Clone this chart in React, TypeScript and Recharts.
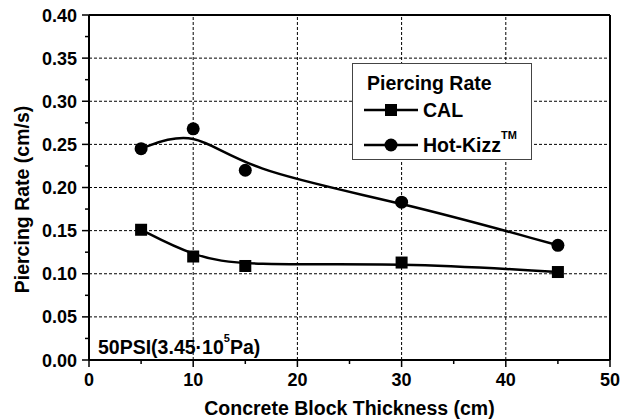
import React from 'react'
import { LineChart, Line, XAxis, YAxis } from 'recharts'

// block thickness (cm)
const thickness = [5, 10, 15, 30, 45]
// piercing rate (cm/s)
const calRate = [0.151, 0.12, 0.109, 0.113, 0.102]
const hotKizzRate = [0.245, 0.268, 0.22, 0.183, 0.133]

// every 5 cm, labels on the 10s
const xTicks = [0, 5, 10, 15, 20, 25, 30, 35, 40, 45, 50]
// every 0.025, labels on the 0.05s
const yTicks = [0, 0.025, 0.05, 0.075, 0.1, 0.125, 0.15, 0.175, 0.2, 0.225, 0.25, 0.275, 0.3, 0.325, 0.35, 0.375, 0.4]
const xGrid = [10, 20, 30, 40]
const yGrid = [0.05, 0.1, 0.15, 0.2, 0.25, 0.3, 0.35]
const X_MAX = 50
const Y_MAX = 0.4

const data = thickness.map((t, i) => ({ t, cal: calRate[i], hot: hotKizzRate[i] }))

// grid and frame as plain segments on the chart's own scales
const vLines = xGrid.map((v) => [{ t: v, g: 0 }, { t: v, g: Y_MAX }])
const hLines = yGrid.map((v) => [{ t: 0, g: v }, { t: X_MAX, g: v }])
const frame = [
  [{ t: 0, g: Y_MAX }, { t: X_MAX, g: Y_MAX }],
  [{ t: X_MAX, g: 0 }, { t: X_MAX, g: Y_MAX }],
]

const FONT = '"Liberation Sans", Arial, sans-serif'

const XTick = (props: any) => {
  const { x, y, payload } = props
  const v = payload.value
  const major = v % 10 === 0
  return (
    <g>
      <line x1={x} y1={y} x2={x} y2={y + (major ? 7 : 4)} stroke="#000" strokeWidth={1.5} />
      {major && (
        <text x={x} y={y + 26} textAnchor="middle" fontFamily={FONT} fontWeight="bold" fontSize={18} fill="#000">
          {v}
        </text>
      )}
    </g>
  )
}

const YTick = (props: any) => {
  const { x, y, payload } = props
  const v = payload.value
  const major = Math.round(v * 1000) % 50 === 0
  return (
    <g>
      <line x1={x} y1={y} x2={x - (major ? 7 : 4)} y2={y} stroke="#000" strokeWidth={1.5} />
      {major && (
        <text x={x - 12} y={y + 6.5} textAnchor="end" fontFamily={FONT} fontWeight="bold" fontSize={18} fill="#000">
          {Number(v).toFixed(2)}
        </text>
      )}
    </g>
  )
}

const SquareDot = (props: any) => {
  const { cx, cy, index } = props
  return <rect key={index} x={cx - 6} y={cy - 6} width={12} height={12} fill="#000" />
}

const CircleDot = (props: any) => {
  const { cx, cy, index } = props
  return <circle key={index} cx={cx} cy={cy} r={6.5} fill="#000" />
}

const YTitle = (props: any) => {
  const vb = props.viewBox || { x: 0, y: 15, width: 89, height: 345 }
  const cx = vb.x + 22
  const cy = vb.y + vb.height / 2 + 12
  return (
    <text x={cx} y={cy} transform={`rotate(-90 ${cx} ${cy})`} textAnchor="middle" dominantBaseline="central"
      fontFamily={FONT} fontWeight="bold" fontSize={19.5} fill="#000">
      Piercing Rate (cm/s)
    </text>
  )
}

const XTitle = (props: any) => {
  const vb = props.viewBox || { x: 89, y: 360, width: 521, height: 60 }
  return (
    <text x={vb.x + vb.width / 2} y={vb.y + 55} textAnchor="middle"
      fontFamily={FONT} fontWeight="bold" fontSize={19.5} fill="#000">
      Concrete Block Thickness (cm)
    </text>
  )
}

function LegendMark({ shape }: { shape: 'square' | 'circle' }) {
  return (
    <svg width={54} height={14} style={{ display: 'block' }}>
      <line x1={0} y1={7} x2={54} y2={7} stroke="#000" strokeWidth={2.5} />
      {shape === 'square' ? <rect x={21} y={1} width={12} height={12} fill="#000" /> : <circle cx={27} cy={7} r={6.5} fill="#000" />}
    </svg>
  )
}

export default function App() {
  return (
    <div style={{ position: 'absolute', left: 0, top: 0, width: 621, height: 420, background: '#fff' }}>
      <LineChart width={621} height={420} data={data} margin={{ top: 15, right: 11, left: 0, bottom: 0 }}>
        <XAxis type="number" dataKey="t" domain={[0, X_MAX]} ticks={xTicks} interval={0} height={60}
          axisLine={{ stroke: '#000', strokeWidth: 2 }} tickLine={false} tickSize={0} tickMargin={0}
          tick={<XTick />} label={<XTitle />} />
        <YAxis type="number" domain={[0, Y_MAX]} ticks={yTicks} interval={0} width={89}
          axisLine={{ stroke: '#000', strokeWidth: 2 }} tickLine={false} tickSize={0} tickMargin={0}
          tick={<YTick />} label={<YTitle />} />
        {vLines.map((d, i) => (
          <Line key={`v${i}`} data={d} dataKey="g" type="linear" stroke="#000" strokeWidth={1} strokeDasharray="3 2"
            dot={false} activeDot={false} legendType="none" isAnimationActive={false} />
        ))}
        {hLines.map((d, i) => (
          <Line key={`h${i}`} data={d} dataKey="g" type="linear" stroke="#000" strokeWidth={1} strokeDasharray="3 2"
            dot={false} activeDot={false} legendType="none" isAnimationActive={false} />
        ))}
        {frame.map((d, i) => (
          <Line key={`f${i}`} data={d} dataKey="g" type="linear" stroke="#000" strokeWidth={2}
            dot={false} activeDot={false} legendType="none" isAnimationActive={false} />
        ))}
        <Line type="basis" dataKey="cal" name="CAL" stroke="#000" strokeWidth={2.5} dot={SquareDot} activeDot={false} isAnimationActive={false} />
        <Line type="basis" dataKey="hot" name="Hot-Kizz™" stroke="#000" strokeWidth={2.5} dot={CircleDot} activeDot={false} isAnimationActive={false} />
      </LineChart>

      <div style={{
        position: 'absolute', left: 352, top: 63, width: 180, height: 97, boxSizing: 'border-box',
        border: '1.5px solid #444', background: '#fff', fontFamily: FONT, fontWeight: 'bold', fontSize: 19.5, color: '#000'
      }}>
        <div style={{ position: 'absolute', left: 14, top: 8, lineHeight: '22px' }}>Piercing Rate</div>
        <div style={{ position: 'absolute', left: 11, top: 35, height: 22, display: 'flex', alignItems: 'center', gap: 5, lineHeight: '22px' }}>
          <LegendMark shape="square" /><span>CAL</span>
        </div>
        <div style={{ position: 'absolute', left: 11, top: 70, height: 22, display: 'flex', alignItems: 'center', gap: 5, lineHeight: '22px' }}>
          <LegendMark shape="circle" /><span>Hot-Kizz<sup style={{ fontSize: 11, verticalAlign: 'top', position: 'relative', top: -4, lineHeight: '11px' }}>TM</sup></span>
        </div>
      </div>

      <div style={{ position: 'absolute', left: 98, top: 336, lineHeight: '22px', fontFamily: FONT, fontWeight: 'bold', fontSize: 19.5, color: '#000', whiteSpace: 'nowrap' }}>
        50PSI(3.45·10<sup style={{ fontSize: 11, verticalAlign: 'top', position: 'relative', top: -3, lineHeight: '11px' }}>5</sup>Pa)
      </div>
    </div>
  )
}
